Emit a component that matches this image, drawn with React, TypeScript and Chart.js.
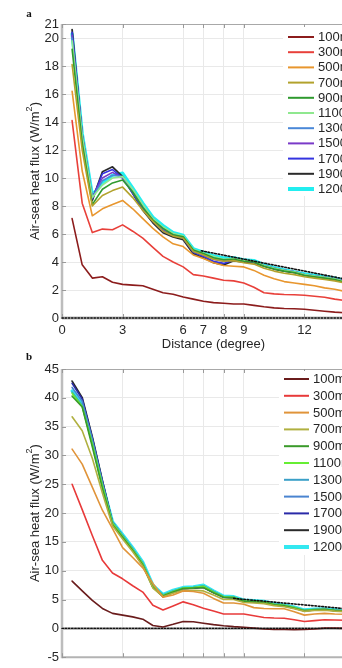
import React, { useEffect, useRef } from "react";
import { Chart, registerables } from "chart.js";

Chart.register(...registerables);

const FONT = "'Liberation Sans', Arial, Helvetica, sans-serif";
const SERIF = "'Liberation Serif', 'Times New Roman', serif";

// Distance from the coast (degree)
const distance = [
  0.5, 1, 1.5, 2, 2.5, 3, 3.5, 4, 4.5, 5, 5.5, 6, 6.5, 7, 7.5, 8, 8.5, 9, 9.5, 10,
  10.5, 11, 11.5, 12, 12.5, 13, 13.5, 14, 14.5, 15,
];

const depthLabels = [
  "100m", "300m", "500m", "700m", "900m", "1100m", "1300m", "1500m", "1700m", "1900m", "1200m",
];

const distanceTicks = [0, 3, 6, 7, 8, 9, 12, 15];
const fluxTicksA = [0, 2, 4, 6, 8, 10, 12, 14, 16, 18, 20, 21];
const fluxTicksB = [-5, 0, 5, 10, 15, 20, 25, 30, 35, 40, 45];

const colorsA = [
  "#8c1c1c", "#e8403a", "#e8962e", "#b2a22c", "#2f9a2f", "#8fe88f",
  "#4a88d8", "#7a3ac8", "#3434e0", "#2a2a2a", "#22eef0",
];
const colorsB = [
  "#6a1c1c", "#e83a3a", "#e0943a", "#b0b040", "#3a9a2a", "#66ee33",
  "#3ba0c8", "#4a84d0", "#2a2aa8", "#2a2a2a", "#33e8f0",
];
const lineWidths = [1.6, 1.6, 1.6, 1.6, 1.6, 1.6, 1.6, 1.6, 1.6, 1.8, 3.2];
const legendWidths = [2, 2, 2, 2, 2, 2, 2, 2, 2, 2, 4];

// Panel a: air-sea heat flux (W/m2) by depth
const fluxA100 = [7.1, 3.8, 2.85, 2.95, 2.55, 2.4, 2.35, 2.3, 2.05, 1.8, 1.7, 1.5, 1.35, 1.2, 1.1, 1.05, 1.0, 1.0, 0.9, 0.8, 0.72, 0.68, 0.66, 0.62, 0.55, 0.48, 0.42, 0.38, 0.36, 0.35];
const fluxA300 = [14.1, 8.2, 6.1, 6.35, 6.3, 6.65, 6.2, 5.7, 5.05, 4.4, 4.0, 3.65, 3.1, 3.0, 2.85, 2.7, 2.65, 2.5, 2.2, 1.8, 1.72, 1.68, 1.66, 1.62, 1.55, 1.48, 1.35, 1.25, 1.2, 1.15];
const fluxA500 = [16.2, 10.5, 7.3, 7.8, 8.1, 8.4, 7.8, 7.1, 6.4, 5.8, 5.3, 5.1, 4.5, 4.25, 3.95, 3.75, 3.7, 3.65, 3.4, 3.05, 2.8, 2.6, 2.5, 2.4, 2.3, 2.15, 2.05, 1.9, 1.82, 1.75];
const fluxA700 = [18.1, 12.0, 8.0, 8.75, 9.1, 9.35, 8.6, 7.7, 6.9, 6.2, 5.85, 5.7, 4.75, 4.5, 4.2, 4.05, 4.1, 3.95, 3.85, 3.55, 3.35, 3.2, 3.1, 2.95, 2.85, 2.75, 2.65, 2.5, 2.4, 2.3];
const fluxA900 = [19.2, 12.5, 8.1, 9.2, 9.65, 9.85, 9.0, 7.9, 7.0, 6.4, 5.95, 5.8, 4.85, 4.6, 4.3, 4.15, 4.2, 4.05, 4.0, 3.7, 3.5, 3.35, 3.25, 3.05, 2.95, 2.85, 2.75, 2.55, 2.5, 2.4];
const fluxA1100 = [19.8, 13.0, 8.6, 9.5, 10.0, 10.1, 9.2, 8.1, 7.1, 6.5, 6.05, 5.85, 4.9, 4.65, 4.4, 4.2, 4.25, 4.1, 4.05, 3.75, 3.55, 3.4, 3.3, 3.1, 3.0, 2.9, 2.8, 2.6, 2.55, 2.45];
const fluxA1300 = [20.0, 13.1, 8.6, 9.8, 10.2, 10.1, 9.1, 8.0, 7.1, 6.4, 6.0, 5.8, 4.85, 4.6, 4.3, 4.15, 4.25, 4.1, 4.05, 3.75, 3.55, 3.4, 3.3, 3.1, 3.0, 2.9, 2.8, 2.62, 2.55, 2.45];
const fluxA1500 = [20.2, 13.1, 8.6, 10.0, 10.4, 10.0, 9.0, 7.9, 7.0, 6.3, 5.95, 5.75, 4.8, 4.5, 4.2, 4.05, 4.2, 4.1, 4.0, 3.75, 3.55, 3.4, 3.3, 3.1, 3.0, 2.9, 2.8, 2.62, 2.55, 2.45];
const fluxA1700 = [20.4, 13.0, 8.5, 10.3, 10.6, 10.0, 8.9, 7.8, 6.9, 6.2, 5.9, 5.7, 4.7, 4.4, 4.05, 3.9, 4.15, 4.05, 4.0, 3.75, 3.55, 3.4, 3.3, 3.1, 3.0, 2.9, 2.8, 2.65, 2.55, 2.5];
const fluxA1900 = [20.6, 13.0, 8.4, 10.45, 10.8, 10.1, 8.9, 7.7, 6.8, 6.1, 5.8, 5.6, 4.6, 4.3, 3.95, 3.8, 4.1, 4.0, 3.95, 3.7, 3.5, 3.35, 3.25, 3.05, 2.95, 2.85, 2.75, 2.6, 2.5, 2.45];
const fluxA1200 = [20.3, 13.2, 8.8, 9.6, 10.2, 10.35, 9.3, 8.2, 7.2, 6.6, 6.1, 5.9, 4.95, 4.7, 4.45, 4.3, 4.3, 4.15, 4.1, 3.8, 3.6, 3.45, 3.3, 3.15, 3.05, 2.95, 2.85, 2.7, 2.6, 2.5];
const trendDistA = [6.9, 15];
const trendFluxA = [4.8, 2.5];

// Panel b: air-sea heat flux (W/m2) by depth
const fluxB100 = [8.2, 6.5, 4.85, 3.45, 2.6, 2.3, 2.0, 1.6, 0.5, 0.25, 0.7, 1.2, 1.15, 0.9, 0.65, 0.45, 0.3, 0.2, 0.05, -0.1, -0.2, -0.2, -0.25, -0.2, -0.1, 0.05, 0.05, 0.0, 0.0, 0.0];
const fluxB300 = [25.0, 20.6, 16.1, 11.8, 9.6, 8.6, 7.4, 6.3, 4.0, 3.2, 3.9, 4.6, 4.1, 3.5, 3.0, 2.5, 2.5, 2.5, 2.2, 1.9, 1.8, 1.75, 1.5, 1.2, 1.35, 1.5, 1.45, 1.4, 1.4, 1.4];
const fluxB500 = [31.1, 28.5, 24.5, 20.5, 17.3, 14.0, 12.3, 10.5, 7.8, 5.4, 5.8, 6.5, 6.4, 6.1, 5.2, 4.4, 4.4, 4.2, 3.6, 3.45, 3.4, 3.4, 2.9, 2.3, 2.5, 2.6, 2.5, 2.45, 2.4, 2.4];
const fluxB700 = [36.7, 34.3, 29.5, 23.5, 17.8, 15.5, 13.3, 10.8, 7.0, 5.5, 6.1, 6.6, 6.6, 6.5, 5.8, 5.0, 5.0, 4.5, 4.4, 4.3, 3.95, 3.75, 3.4, 2.95, 3.1, 3.15, 3.0, 2.9, 2.8, 2.75];
const fluxB900 = [40.3, 38.4, 31.5, 24.3, 18.0, 15.8, 13.5, 11.0, 7.1, 5.6, 6.3, 6.9, 7.0, 7.1, 6.2, 5.4, 5.3, 4.7, 4.6, 4.5, 4.1, 3.9, 3.5, 3.05, 3.2, 3.25, 3.1, 3.0, 2.9, 2.85];
const fluxB1100 = [40.8, 38.5, 32.0, 24.8, 18.3, 16.0, 13.7, 11.2, 7.3, 5.7, 6.4, 7.0, 7.1, 7.3, 6.3, 5.5, 5.4, 4.8, 4.7, 4.6, 4.2, 4.0, 3.6, 3.1, 3.25, 3.3, 3.15, 3.05, 2.95, 2.9];
const fluxB1300 = [41.0, 38.7, 32.3, 25.0, 18.4, 16.1, 13.8, 11.3, 7.4, 5.8, 6.5, 7.0, 7.1, 7.4, 6.4, 5.5, 5.45, 4.85, 4.75, 4.65, 4.25, 4.05, 3.65, 3.15, 3.3, 3.35, 3.2, 3.05, 2.95, 2.9];
const fluxB1500 = [41.8, 39.4, 32.8, 25.3, 18.4, 16.1, 13.8, 11.3, 7.4, 5.7, 6.4, 7.0, 7.1, 7.3, 6.4, 5.5, 5.4, 4.8, 4.7, 4.6, 4.2, 4.0, 3.6, 3.1, 3.25, 3.3, 3.15, 3.05, 2.95, 2.9];
const fluxB1700 = [42.5, 39.8, 33.0, 25.5, 18.4, 16.0, 13.7, 11.1, 7.3, 5.6, 6.3, 6.9, 7.0, 7.2, 6.3, 5.4, 5.35, 4.75, 4.65, 4.55, 4.15, 3.95, 3.55, 3.1, 3.2, 3.25, 3.1, 3.0, 2.9, 2.85];
const fluxB1900 = [42.9, 40.0, 33.2, 25.6, 18.3, 16.0, 13.6, 11.0, 7.2, 5.5, 6.3, 6.9, 7.0, 7.1, 6.2, 5.4, 5.3, 4.7, 4.6, 4.5, 4.1, 3.9, 3.5, 3.05, 3.2, 3.25, 3.1, 3.0, 2.9, 2.85];
const fluxB1200 = [41.2, 39.2, 32.5, 25.0, 18.5, 16.3, 14.0, 11.5, 7.5, 5.9, 6.6, 7.1, 7.2, 7.5, 6.5, 5.6, 5.5, 4.9, 4.8, 4.7, 4.3, 4.1, 3.7, 3.2, 3.35, 3.4, 3.25, 3.1, 3.0, 3.0];
const trendDistB = [8.5, 15];
const trendFluxB = [5.2, 3.1];

type Spec = {
  letter: string;
  top: number;
  height: number;
  padTop: number;
  xAxisH: number;
  showXLabels: boolean;
  yMin: number;
  yMax: number;
  yTicks: number[];
  series: number[][];
  colors: string[];
  trendX: number[];
  trendY: number[];
  legend: { left: number; top: number; bottom: number; x0: number; x1: number; textX: number; y0: number; step: number };
  letterY: number;
};

const CANVAS_W = 400;

const panelA: Spec = {
  letter: "a",
  top: 0,
  height: 352,
  padTop: 24,
  xAxisH: 34,
  showXLabels: true,
  yMin: 0,
  yMax: 21,
  yTicks: fluxTicksA,
  series: [fluxA100, fluxA300, fluxA500, fluxA700, fluxA900, fluxA1100, fluxA1300, fluxA1500, fluxA1700, fluxA1900, fluxA1200],
  colors: colorsA,
  trendX: trendDistA,
  trendY: trendFluxA,
  legend: { left: 283, top: 27, bottom: 196, x0: 288, x1: 314, textX: 318, y0: 37, step: 15.2 },
  letterY: 14,
};

const panelB: Spec = {
  letter: "b",
  top: 352,
  height: 316,
  padTop: 17,
  xAxisH: 3,
  showXLabels: false,
  yMin: -5,
  yMax: 45,
  yTicks: fluxTicksB,
  series: [fluxB100, fluxB300, fluxB500, fluxB700, fluxB900, fluxB1100, fluxB1300, fluxB1500, fluxB1700, fluxB1900, fluxB1200],
  colors: colorsB,
  trendX: trendDistB,
  trendY: trendFluxB,
  legend: { left: 279, top: 19, bottom: 203, x0: 284, x1: 309, textX: 313, y0: 27, step: 16.8 },
  letterY: 5,
};

function Panel({ spec }: { spec: Spec }) {
  const ref = useRef<HTMLCanvasElement>(null);

  useEffect(() => {
    const canvas = ref.current;
    if (!canvas) return;
    const s = spec;

    const datasets: any[] = [];
    // zero line, dotted
    datasets.push({
      data: [{ x: 0, y: 0 }, { x: 15, y: 0 }],
      borderColor: "#111",
      borderWidth: 1.4,
      borderDash: [1.4, 1.8],
      clip: 6,
    });
    // linear trend, dotted
    datasets.push({
      data: s.trendX.map((x, i) => ({ x, y: s.trendY[i] })),
      borderColor: "#111",
      borderWidth: 1.6,
      borderDash: [1.6, 1.8],
      clip: 6,
    });
    s.series.forEach((vals, i) => {
      datasets.push({
        label: depthLabels[i],
        data: distance.map((x, j) => ({ x, y: vals[j] })),
        borderColor: s.colors[i],
        borderWidth: lineWidths[i],
        clip: 6,
      });
    });

    const decor = {
      id: "decor" + s.letter,
      beforeDatasetsDraw(chart: any) {
        const { ctx, chartArea: ca, scales } = chart;
        const xs = scales.x;
        const ys = scales.y;
        ctx.save();

        // grey zero line beneath the dotted one
        const y0 = ys.getPixelForValue(0);
        ctx.strokeStyle = "#b9b9b9";
        ctx.lineWidth = 3;
        ctx.beginPath();
        ctx.moveTo(ca.left, y0);
        ctx.lineTo(ca.right, y0);
        ctx.stroke();

        // frame
        ctx.strokeStyle = "#a8a8a8";
        ctx.lineWidth = 1;
        ctx.beginPath();
        ctx.moveTo(ca.left, ca.top + 0.5);
        ctx.lineTo(ca.right, ca.top + 0.5);
        ctx.stroke();
        ctx.strokeStyle = "#b3b3b3";
        ctx.lineWidth = 2;
        ctx.beginPath();
        ctx.moveTo(ca.left, ca.bottom);
        ctx.lineTo(ca.right, ca.bottom);
        ctx.stroke();
        ctx.strokeStyle = "#bdbdbd";
        ctx.lineWidth = 2.5;
        ctx.beginPath();
        ctx.moveTo(ca.left, ca.top);
        ctx.lineTo(ca.left, ca.bottom + 1);
        ctx.stroke();

        // inward tick marks
        ctx.strokeStyle = "#9a9a9a";
        ctx.lineWidth = 1;
        ctx.beginPath();
        s.yTicks.forEach((v) => {
          const py = Math.round(ys.getPixelForValue(v)) + 0.5;
          ctx.moveTo(ca.left, py);
          ctx.lineTo(ca.left + 4, py);
        });
        distanceTicks.forEach((v) => {
          const px = Math.round(xs.getPixelForValue(v)) + 0.5;
          ctx.moveTo(px, ca.top);
          ctx.lineTo(px, ca.top + 4);
          ctx.moveTo(px, ca.bottom);
          ctx.lineTo(px, ca.bottom - 4);
        });
        ctx.stroke();

        // legend
        const lg = s.legend;
        ctx.fillStyle = "#ffffff";
        ctx.fillRect(lg.left, lg.top, CANVAS_W - lg.left, lg.bottom - lg.top);
        ctx.font = `13px ${FONT}`;
        ctx.textAlign = "left";
        ctx.textBaseline = "middle";
        depthLabels.forEach((lab, i) => {
          const ly = lg.y0 + i * lg.step;
          ctx.strokeStyle = s.colors[i];
          ctx.lineWidth = legendWidths[i];
          ctx.beginPath();
          ctx.moveTo(lg.x0, ly);
          ctx.lineTo(lg.x1, ly);
          ctx.stroke();
          ctx.fillStyle = "#262626";
          ctx.fillText(lab, lg.textX, ly + 0.5);
        });

        // panel letter
        ctx.fillStyle = "#111";
        ctx.font = `bold 11px ${SERIF}`;
        ctx.textAlign = "center";
        ctx.textBaseline = "middle";
        ctx.fillText(s.letter, 29, s.letterY);

        // y-axis title with superscript
        const cy = (ca.top + ca.bottom) / 2;
        ctx.translate(35, cy);
        ctx.rotate(-Math.PI / 2);
        ctx.fillStyle = "#262626";
        ctx.textAlign = "left";
        ctx.textBaseline = "middle";
        const main = "Air-sea heat flux (W/m";
        const tail = ")";
        ctx.font = `13px ${FONT}`;
        const wMain = ctx.measureText(main).width;
        const wTail = ctx.measureText(tail).width;
        ctx.font = `9px ${FONT}`;
        const wSup = ctx.measureText("2").width;
        const start = -(wMain + wSup + wTail) / 2;
        ctx.font = `13px ${FONT}`;
        ctx.fillText(main, start, 0);
        ctx.font = `9px ${FONT}`;
        ctx.fillText("2", start + wMain, -5);
        ctx.font = `13px ${FONT}`;
        ctx.fillText(tail, start + wMain + wSup, 0);

        ctx.restore();
      },
    };

    const chart = new Chart(canvas, {
      type: "line",
      data: { datasets },
      options: {
        animation: false,
        responsive: false,
        maintainAspectRatio: false,
        devicePixelRatio: 1,
        layout: { padding: { top: s.padTop, right: 35, bottom: 0, left: 0 } },
        elements: {
          point: { radius: 0 },
          line: { tension: 0, borderJoinStyle: "round", borderCapStyle: "round" },
        },
        plugins: { legend: { display: false }, tooltip: { enabled: false } },
        scales: {
          x: {
            type: "linear",
            min: 0,
            max: 15,
            afterBuildTicks: (axis: any) => {
              axis.ticks = distanceTicks.map((v) => ({ value: v }));
            },
            afterFit: (axis: any) => {
              axis.height = s.xAxisH;
            },
            grid: { color: "#e9e9e9", lineWidth: 1, drawTicks: false },
            border: { display: false },
            ticks: {
              display: s.showXLabels,
              autoSkip: false,
              maxRotation: 0,
              padding: 5,
              color: "#262626",
              font: { family: FONT, size: 13 },
            },
            title: {
              display: s.showXLabels,
              text: "Distance (degree)",
              color: "#262626",
              padding: 0,
              font: { family: FONT, size: 13 },
            },
          },
          y: {
            type: "linear",
            min: s.yMin,
            max: s.yMax,
            afterBuildTicks: (axis: any) => {
              axis.ticks = s.yTicks.map((v) => ({ value: v }));
            },
            afterFit: (axis: any) => {
              axis.width = 62;
            },
            grid: { color: "#e9e9e9", lineWidth: 1, drawTicks: false },
            border: { display: false },
            ticks: {
              autoSkip: false,
              padding: 3,
              color: "#262626",
              font: { family: FONT, size: 13 },
            },
          },
        },
      } as any,
      plugins: [decor],
    });

    return () => chart.destroy();
  }, [spec]);

  return (
    <canvas
      ref={ref}
      width={CANVAS_W}
      height={spec.height}
      style={{ position: "absolute", left: 0, top: spec.top, width: CANVAS_W, height: spec.height, display: "block" }}
    />
  );
}

export default function App() {
  return (
    <div
      style={{
        position: "fixed",
        left: 0,
        top: 0,
        width: 342,
        height: 668,
        overflow: "hidden",
        background: "#ffffff",
      }}
    >
      <Panel spec={panelA} />
      <Panel spec={panelB} />
    </div>
  );
}
